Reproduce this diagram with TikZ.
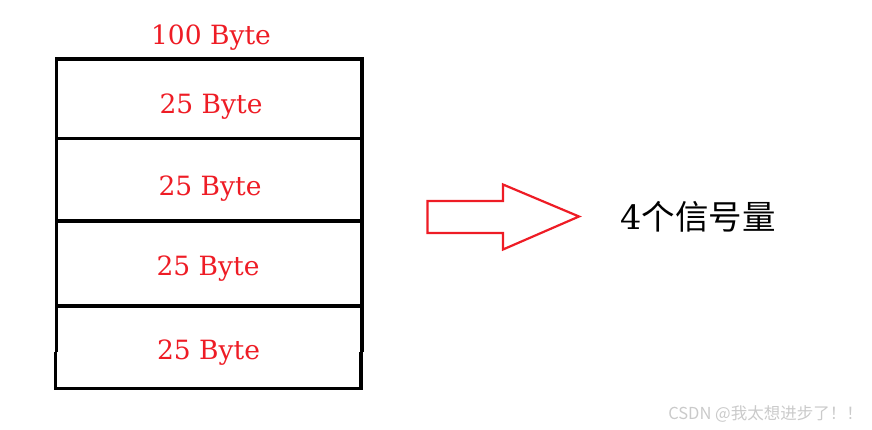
\documentclass[tikz,border=0pt]{standalone}
\usepackage{fontspec}
\usepackage{xcolor}
\usetikzlibrary{positioning}
\newfontfamily\bytefont{DejaVu Serif}
\newfontfamily\cjkfont{Noto Sans CJK SC}
\definecolor{byteRed}{HTML}{EE1C25}
\definecolor{markGray}{HTML}{CACACA}

\begin{document}
\begin{tikzpicture}[x=1pt, y=-1pt,
  every node/.style={inner sep=0pt},
  bytelabel/.style={anchor=base, text=byteRed, font=\bytefont\fontsize{26.5}{30}\selectfont},
  wall/.style={line width=3.5pt},
  blockarrow/.style={draw=byteRed, line width=2.2pt, line join=miter}]
  \useasboundingbox (0,0) rectangle (872,430);

  % memory block, 100 Byte split in four
  \node[bytelabel] (total) at (211,45) {100 Byte};
  \draw[wall] (56.5,351.7) -- (56.5,59) -- (362,59) -- (362,351.7);
  \draw[wall] (55.3,351.7) -- (55.3,388.5) -- (360.8,388.5) -- (360.8,351.7);
  \draw[wall] (56.5,138.3) -- (362,138.3);
  \draw[wall] (56.5,221) -- (362,221);
  \draw[wall] (56.5,306) -- (362,306);
  \node[bytelabel] (cellA) at (211,114) {25 Byte};
  \node[bytelabel] (cellB) at (210,196) {25 Byte};
  \node[bytelabel] (cellC) at (208,275) {25 Byte};
  \node[bytelabel] (cellD) at (208.5,359) {25 Byte};

  % hollow arrow to the result
  \draw[blockarrow] (427.5,201) -- (503,201) -- (503,184.5) -- (579,216.5)
    -- (503,249.5) -- (503,233) -- (427.5,233) -- cycle;
  \node[anchor=west, font=\fontsize{33.5}{38}\selectfont] (sems) at (620,216.5)
    {{\bytefont 4}\cjkfont 个信号量};

  \node[anchor=east, text=markGray, font=\cjkfont\fontsize{16.5}{19}\selectfont] (mark) at (863,414)
    {CSDN @我太想进步了！！};
\end{tikzpicture}
\end{document}
